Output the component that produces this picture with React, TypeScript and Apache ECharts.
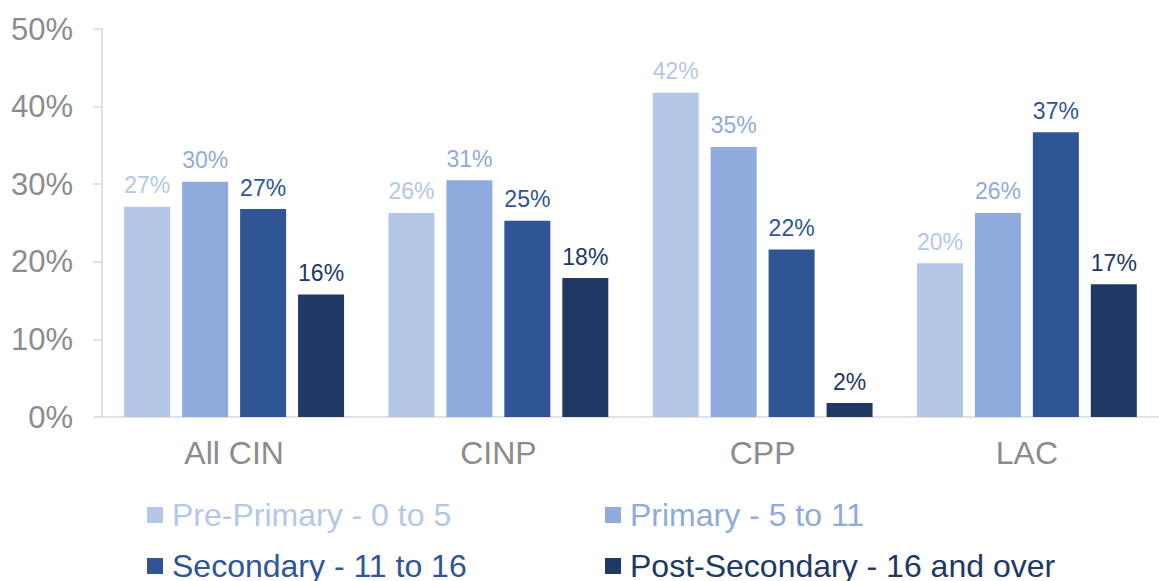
import React, { useEffect, useRef } from "react";
import * as echarts from "echarts";

const categories = ["All CIN", "CINP", "CPP", "LAC"];
const seriesNames = [
  "Pre-Primary - 0 to 5",
  "Primary - 5 to 11",
  "Secondary - 11 to 16",
  "Post-Secondary - 16 and over",
];
const prePrimary = [27.1, 26.3, 41.8, 19.8];
const primary = [30.3, 30.5, 34.8, 26.3];
const secondary = [26.8, 25.3, 21.6, 36.7];
const postSecondary = [15.8, 17.9, 1.8, 17.1];
const colors = ["#B4C7E7", "#8FAADC", "#2F5597", "#203864"];
const yTicks = [0, 10, 20, 30, 40, 50];

const FONT = "'Liberation Sans', Arial, sans-serif";

export default function App() {
  const ref = useRef<HTMLDivElement>(null);
  useEffect(() => {
    if (!ref.current) return;
    const chart = echarts.init(ref.current, null, { renderer: "svg" });
    const values = [prePrimary, primary, secondary, postSecondary];
    const series = values.map((v, i) => ({
      name: seriesNames[i],
      type: "bar",
      data: v,
      barWidth: 46,
      barGap: "26%",
      itemStyle: { color: colors[i] },
      label: {
        show: true,
        position: "top",
        distance: 10,
        color: colors[i],
        fontSize: 23,
        fontFamily: FONT,
        formatter: (p: any) => Math.round(p.value) + "%",
      },
    }));
    const legendPos = [
      { left: 147, top: 497 },
      { left: 605, top: 497 },
      { left: 147, top: 548 },
      { left: 605, top: 548 },
    ];
    const legends = seriesNames.map((name, i) => ({
      left: legendPos[i].left,
      top: legendPos[i].top,
      padding: 0,
      itemWidth: 16,
      itemHeight: 16,
      icon: "rect",
      selectedMode: false,
      data: [name],
      textStyle: {
        color: colors[i],
        fontSize: 32,
        fontFamily: FONT,
        lineHeight: 36,
        padding: [0, 0, 0, 4],
      },
    }));
    chart.setOption({
      animation: false,
      grid: { left: 102, top: 29, bottom: 164, right: -10, containLabel: false },
      legend: legends,
      xAxis: {
        type: "category",
        data: categories,
        axisLine: { lineStyle: { color: "#d9d9d9", width: 1.5 } },
        axisTick: { show: false },
        axisLabel: { color: "#8c8c8c", fontSize: 32, fontFamily: FONT, margin: 20 },
      },
      yAxis: {
        type: "value",
        min: yTicks[0],
        max: yTicks[yTicks.length - 1],
        interval: 10,
        splitLine: { show: false },
        axisLine: { show: true, lineStyle: { color: "#d9d9d9", width: 1.5 } },
        axisTick: { show: true, length: 9, lineStyle: { color: "#d9d9d9", width: 1.5 } },
        axisLabel: {
          color: "#8c8c8c",
          fontSize: 31,
          fontFamily: FONT,
          margin: 29,
          formatter: "{value}%",
        },
      },
      series,
    });
    return () => chart.dispose();
  }, []);
  return (
    <div
      ref={ref}
      style={{ position: "fixed", left: 0, top: 0, width: 1159, height: 581, background: "#fff" }}
    />
  );
}
